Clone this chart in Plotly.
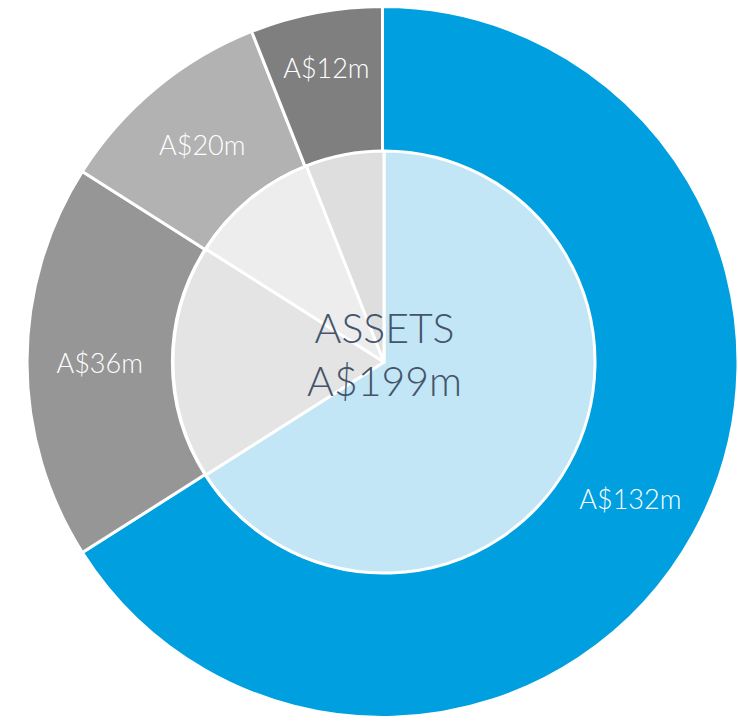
import plotly.graph_objects as go

categories = ["Segment A", "Segment B", "Segment C", "Segment D"]
values = [132, 36, 20, 12]
value_labels = ["A$132m", "A$36m", "A$20m", "A$12m"]
center_title = "ASSETS"
center_total = "A$199m"

outer_colors = ["#009FDF", "#969696", "#B2B2B2", "#7F7F7F"]
inner_colors = ["#C2E6F6", "#E4E4E4", "#EDEDED", "#DEDEDE"]

W, H = 738, 721
cx, cy = 384, 362  # center in pixels from top-left
R_out, R_in = 357, 211

def dom(r):
    return dict(
        x=[max(0.0, (cx - r) / W), min(1.0, (cx + r) / W)],
        y=[max(0.0, (H - cy - r) / H), min(1.0, (H - cy + r) / H)],
    )

fig = go.Figure()
fig.add_trace(go.Pie(
    labels=categories, values=values, text=value_labels,
    textinfo="text", textposition="inside", insidetextorientation="horizontal",
    textfont=dict(family="Lato", size=27, color="white", weight=300),
    marker=dict(colors=outer_colors, line=dict(color="white", width=3)),
    hole=R_in / R_out, sort=False, direction="clockwise", rotation=0,
    domain=dom(R_out), showlegend=False, hoverinfo="label+text",
))
fig.add_trace(go.Pie(
    labels=categories, values=values,
    textinfo="none",
    marker=dict(colors=inner_colors, line=dict(color="white", width=3)),
    sort=False, direction="clockwise", rotation=0,
    domain=dom(R_in), showlegend=False,
))
fig.add_annotation(
    x=cx / W, y=(H - cy + 8) / H, xref="paper", yref="paper",
    text=center_title + "<br>" + center_total, showarrow=False,
    font=dict(family="Lato", size=41, color="#44546A", weight=300),
    align="center",
)
fig.update_layout(
    width=W, height=H, margin=dict(l=0, r=0, t=0, b=0),
    paper_bgcolor="white", plot_bgcolor="white",
)
fig.write_html("out.html", post_script="document.body.style.margin='0';",
               config={"displayModeBar": False})
